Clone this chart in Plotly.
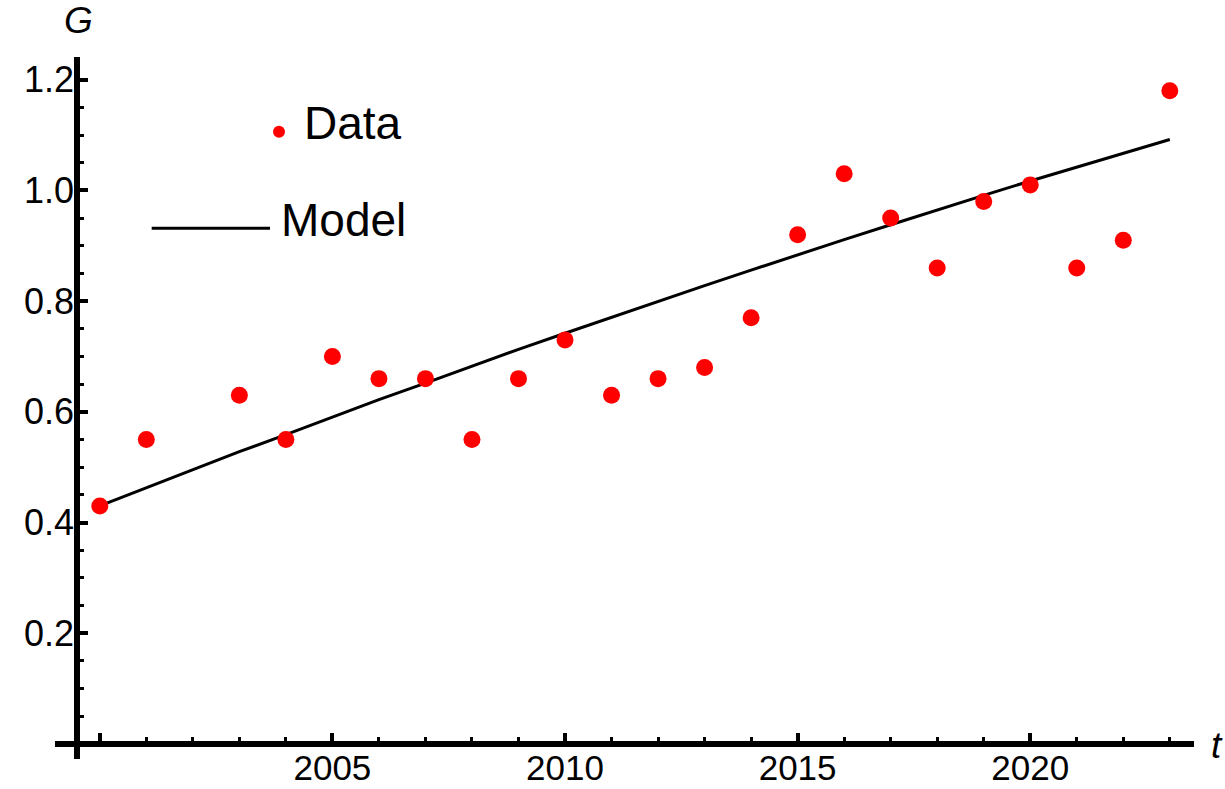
import plotly.graph_objects as go

# Data
years = [2000, 2001, 2003, 2004, 2005, 2006, 2007, 2008, 2009, 2010, 2011,
         2012, 2013, 2014, 2015, 2016, 2017, 2018, 2019, 2020, 2021, 2022, 2023]
g_data = [0.43, 0.55, 0.63, 0.55, 0.70, 0.66, 0.66, 0.55, 0.66, 0.73, 0.63,
          0.66, 0.68, 0.77, 0.92, 1.03, 0.95, 0.86, 0.98, 1.01, 0.86, 0.91, 1.18]

model_years = list(range(2000, 2024))
g_model = [0.430, 0.463, 0.495, 0.528, 0.559, 0.591, 0.622, 0.652, 0.683, 0.713,
           0.742, 0.771, 0.800, 0.828, 0.856, 0.884, 0.911, 0.938, 0.965, 0.991,
           1.017, 1.042, 1.067, 1.092]

x_tickvals = [2000, 2005, 2010, 2015, 2020]
x_ticktext = ["", "2005", "2010", "2015", "2020"]
y_tickvals = [0.2, 0.4, 0.6, 0.8, 1.0, 1.2]
y_ticktext = ["0.2", "0.4", "0.6", "0.8", "1.0", "1.2"]

FONT = "Liberation Sans, Arial, sans-serif"

fig = go.Figure()
fig.add_trace(go.Scatter(x=model_years, y=g_model, mode="lines",
                         line=dict(color="black", width=3), name="Model",
                         showlegend=False))
fig.add_trace(go.Scatter(x=years, y=g_data, mode="markers",
                         marker=dict(color="#ff0000", size=17), name="Data",
                         showlegend=False, cliponaxis=False))

W, H = 1225, 789
L, R, T, B = 77, 31, 57, 45
pw, ph = W - L - R, H - T - B

def px(xp):
    return (xp - L) / pw

def py(yp):
    return (H - B - yp) / ph

axis_common = dict(showgrid=False, zeroline=False, showline=False,
                   ticks="inside", tickcolor="black")

fig.update_layout(
    width=W, height=H,
    margin=dict(l=L, r=R, t=T, b=B, autoexpand=False),
    paper_bgcolor="white", plot_bgcolor="white",
    xaxis=dict(range=[1999.51, 2023.52], tickvals=x_tickvals, ticktext=x_ticktext,
               ticklen=11, tickwidth=4, ticklabelstandoff=0,
               tickfont=dict(family=FONT, size=35, color="black"),
               minor=dict(dtick=1, tick0=2000, ticks="inside", ticklen=7,
                          tickwidth=3, tickcolor="black", showgrid=False),
               **axis_common),
    yaxis=dict(range=[0, 1.241], tickvals=y_tickvals, ticktext=y_ticktext,
               ticklen=11, tickwidth=4, ticklabelstandoff=2,
               tickfont=dict(family=FONT, size=36, color="black"),
               minor=dict(dtick=0.05, tick0=0, ticks="inside", ticklen=7,
                          tickwidth=3, tickcolor="black", showgrid=False),
               **axis_common),
    showlegend=False,
)

# Axis lines (Mathematica-style crossing axes)
fig.add_shape(type="line", xref="paper", yref="paper",
              x0=px(55), x1=1, y0=0, y1=0,
              line=dict(color="black", width=6))
fig.add_shape(type="line", xref="paper", yref="paper",
              x0=0, x1=0, y0=py(759), y1=1,
              line=dict(color="black", width=6))

# Axis labels
fig.add_annotation(text="<i>G</i>", xref="paper", yref="paper",
                   x=px(78), y=py(20), xanchor="center", yanchor="middle",
                   showarrow=False, font=dict(family=FONT, size=37, color="black"))
fig.add_annotation(text="<i>t</i>", xref="paper", yref="paper",
                   x=px(1217), y=py(745), xanchor="center", yanchor="middle",
                   showarrow=False, font=dict(family=FONT, size=37, color="black"))

# Legend (drawn inside the plot)
r = 6
fig.add_shape(type="circle", xref="paper", yref="paper",
              x0=px(279 - r), x1=px(279 + r), y0=py(131.7 + r), y1=py(131.7 - r),
              fillcolor="#ff0000", line=dict(width=0))
fig.add_annotation(text="Data", xref="paper", yref="paper",
                   x=px(302), y=py(123), xanchor="left", yanchor="middle",
                   showarrow=False, font=dict(family=FONT, size=46, color="black"))
fig.add_shape(type="line", xref="paper", yref="paper",
              x0=px(151.7), x1=px(270), y0=py(228.3), y1=py(228.3),
              line=dict(color="black", width=3))
fig.add_annotation(text="Model", xref="paper", yref="paper",
                   x=px(279), y=py(220), xanchor="left", yanchor="middle",
                   showarrow=False, font=dict(family=FONT, size=46, color="black"))

fig.write_html("out.html",
               config={"displayModeBar": False},
               post_script="document.body.style.margin='0';"
                           "document.body.style.padding='0';"
                           "document.body.style.overflow='hidden';")
